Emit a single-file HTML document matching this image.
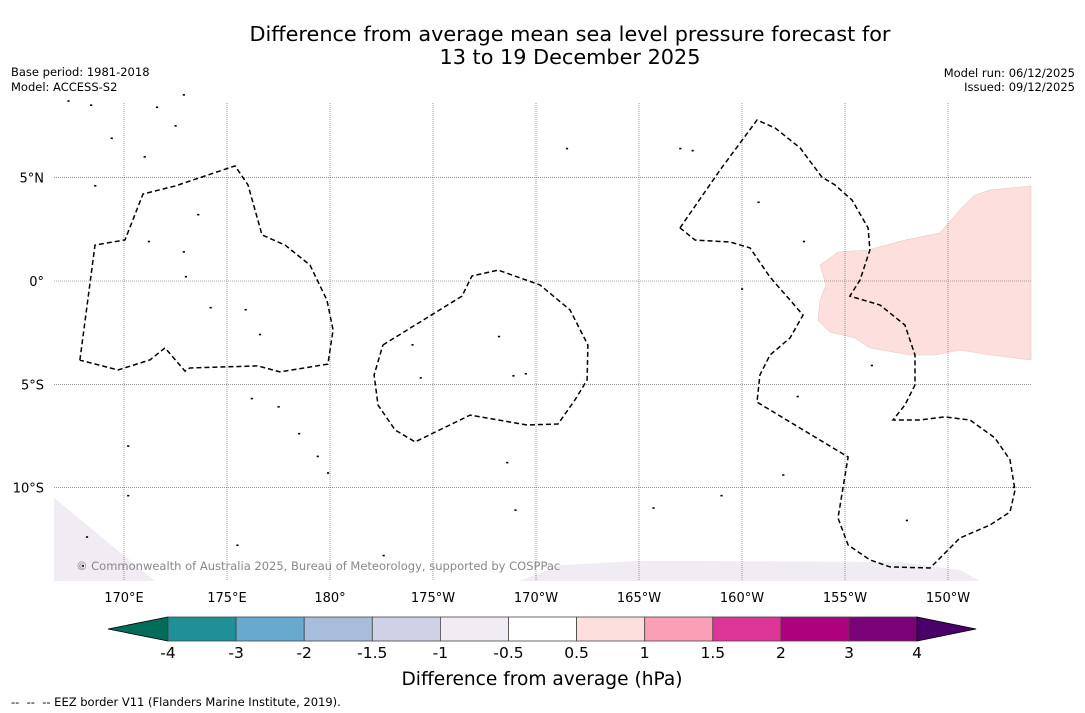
<!DOCTYPE html>
<html><head><meta charset="utf-8">
<style>
html,body{margin:0;padding:0;background:#fff;width:1085px;height:713px;overflow:hidden;font-family:"DejaVu Sans","Liberation Sans",sans-serif}
</style></head><body>
<svg id="chart" width="1085" height="713" xmlns="http://www.w3.org/2000/svg" font-family="DejaVu Sans, Liberation Sans, sans-serif">
<text x="570" y="41" font-size="20.8" text-anchor="middle" fill="#000">Difference from average mean sea level pressure forecast for</text>
<text x="570" y="64" font-size="20.8" text-anchor="middle" fill="#000">13 to 19 December 2025</text>
<text x="11" y="76" font-size="11.5">Base period: 1981-2018</text>
<text x="11" y="91" font-size="11.5">Model: ACCESS-S2</text>
<text x="1075" y="77" font-size="11.5" text-anchor="end">Model run: 06/12/2025</text>
<text x="1075" y="91" font-size="11.5" text-anchor="end">Issued: 09/12/2025</text>
<g id="map"></g>
<g id="cbar"></g>
<text x="542" y="685" font-size="18.6" text-anchor="middle">Difference from average (hPa)</text>
<text x="11" y="706" font-size="11.5" style="white-space:pre">--  --  -- EEZ border V11 (Flanders Marine Institute, 2019).</text>
</svg>
<script>
const lonTicks=[170,175,180,185,190,195,200,205,210];
const lonLabels=["170°E","175°E","180°","175°W","170°W","165°W","160°W","155°W","150°W"];
const latTicks=[5,0,-5,-10];
const latLabels=["5°N","0°","5°S","10°S"];
const cbarLevels=["-4","-3","-2","-1.5","-1","-0.5","0.5","1","1.5","2","3","4"];
const cbarColors=["#1f9196","#67a9cf","#a6bddb","#d0d1e6","#f1ebf4","#ffffff","#fde0dd","#fa9fb5","#dd3497","#ae017e","#7a0177"];
const eezGilbert=[[167.86,-3.83],[168.59,1.74],[170.05,1.99],[170.92,4.21],[172.48,4.60],[175.39,5.57],[176.02,4.65],[176.70,2.23],[177.82,1.74],[179.03,0.77],[179.85,-0.92],[180.15,-2.37],[179.90,-4.02],[177.57,-4.40],[176.50,-4.11],[173.20,-4.21],[172.96,-4.36],[171.99,-3.24],[171.26,-3.82],[169.71,-4.31],[167.86,-3.83]];
const eezPhoenix=[[182.57,-3.10],[186.41,-0.73],[186.89,0.24],[188.16,0.53],[190.19,-0.19],[191.65,-1.40],[192.52,-3.10],[192.48,-4.79],[191.89,-5.76],[191.07,-6.92],[189.56,-6.97],[186.80,-6.49],[184.13,-7.79],[183.16,-7.21],[182.33,-6.00],[182.14,-4.55],[182.57,-3.10]];
const eezLine=[[196.99,2.57],[198.93,5.37],[200.73,7.79],[201.60,7.41],[202.82,6.44],[203.88,5.03],[204.51,4.65],[205.34,3.92],[206.12,2.57],[206.21,1.50],[205.73,0.05],[205.24,-0.73],[206.70,-1.16],[207.91,-2.13],[208.40,-3.58],[208.40,-5.03],[207.91,-6.00],[207.33,-6.73],[208.64,-6.73],[209.85,-6.58],[211.07,-6.73],[212.28,-7.60],[213.01,-8.66],[213.25,-10.12],[213.01,-11.18],[212.04,-11.81],[210.58,-12.44],[209.13,-13.89],[207.18,-13.84],[206.21,-13.50],[205.15,-12.78],[204.66,-11.47],[205.15,-8.52],[200.73,-5.86],[200.87,-4.55],[201.36,-3.58],[202.33,-2.76],[202.96,-1.65],[202.33,-0.92],[201.36,0.19],[200.39,1.60],[199.42,1.89],[197.73,1.98],[196.99,2.57]];
const pinkArea=[[203.79,0.77],[204.66,1.40],[206.12,1.50],[207.91,1.98],[209.61,2.32],[210.58,3.44],[211.31,4.16],[212.04,4.40],[214.03,4.60],[214.03,-3.82],[212.04,-3.58],[210.58,-3.34],[209.37,-3.58],[208.16,-3.58],[206.21,-3.24],[205.49,-2.76],[204.27,-2.47],[203.69,-1.89],[203.79,-0.92],[204.08,-0.19],[203.79,0.77]];
const lavWest=[[166.60,-10.50],[166.60,-14.52],[171.50,-14.52]];
const lavSouth=[[189.22,-14.52],[191.17,-13.75],[195.05,-13.55],[207.67,-13.60],[210.58,-13.99],[211.55,-14.52]];
const islands=[[171.2,1.9],[172.9,1.4],[173.0,0.2],[174.2,-1.3],[175.9,-1.4],[176.6,-2.6],[176.2,-5.7],[177.5,-6.1],[178.5,-7.4],[179.4,-8.5],[179.9,-9.3],[184.0,-3.1],[188.2,-2.7],[188.9,-4.6],[189.5,-4.5],[184.4,-4.7],[197.6,6.3],[200.8,3.8],[203.0,1.9],[200.0,-0.4],[202.7,-5.6],[202.0,-9.4],[199.0,-10.4],[195.7,-11.0],[188.6,-8.8],[189.0,-11.1],[182.6,-13.3],[206.3,-4.1],[213.2,-10.0],[208.0,-11.6],[170.2,-8.0],[170.2,-10.4],[168.2,-12.4],[168.0,-13.8],[175.5,-12.8],[171.6,8.4],[172.5,7.5],[172.9,9.0],[167.3,8.7],[168.4,8.5],[169.4,6.9],[168.6,4.6],[173.6,3.2],[197.0,6.4],[191.5,6.4],[171.0,6.0]];
const X=lon=>124+(lon-170)*20.6;
const Y=lat=>281-lat*20.66;
const NS="http://www.w3.org/2000/svg";
const map=document.getElementById('map');
function mk(tag,attrs,parent){const e=document.createElementNS(NS,tag);for(const k in attrs)e.setAttribute(k,attrs[k]);parent.appendChild(e);return e;}
const pts=a=>a.map(p=>X(p[0]).toFixed(1)+','+Y(p[1]).toFixed(1)).join(' ');
let e=mk('polygon',{points:pts(pinkArea),fill:'#fde0dd',stroke:'#e8c8c6','stroke-width':0.6},map);


e=mk('polygon',{points:pts(lavWest),fill:'#f1ebf4'},map);


e=mk('polygon',{points:pts(lavSouth),fill:'#f1ebf4'},map);


lonTicks.forEach((l,i)=>{
 const g=mk('line',{x1:X(l),x2:X(l),y1:103,y2:581,stroke:'#555','stroke-width':0.6,'stroke-dasharray':'1,1'},map);
 
 
 const t=mk('text',{x:X(l),y:602,'font-size':13,'text-anchor':'middle'},map);t.textContent=lonLabels[i];
 
 
});
latTicks.forEach((l,i)=>{
 const g=mk('line',{x1:54,x2:1031,y1:Y(l),y2:Y(l),stroke:'#555','stroke-width':0.6,'stroke-dasharray':'1,1'},map);
 
 
 const t=mk('text',{x:44,y:Y(l)+5,'font-size':13,'text-anchor':'end'},map);t.textContent=latLabels[i];
 
 
});
[[eezGilbert,'eez-gilbert-islands'],[eezPhoenix,'eez-phoenix-islands'],[eezLine,'eez-line-islands']].forEach(([a,n])=>{
 const p=mk('polyline',{points:pts(a),fill:'none',stroke:'#000','stroke-width':1.5,'stroke-dasharray':'5,3'},map);
 
 
});
islands.forEach(p=>{
 const c=mk('rect',{x:X(p[0])-1,y:Y(p[1])-1,width:2.2,height:1.6,fill:'#000'},map);
 
 
});
e=mk('text',{x:76,y:570,'font-size':11.5,fill:'#888'},map);
e.textContent='© Commonwealth of Australia 2025, Bureau of Meteorology, supported by COSPPac';


const cb=document.getElementById('cbar');
const cx0=168,cw=68.1,cy=617,ch=24;
e=mk('polygon',{points:`108,${cy+ch/2} ${cx0},${cy} ${cx0},${cy+ch}`,fill:'#016c59',stroke:'#000','stroke-width':0.8},cb);


cbarColors.forEach((c,i)=>{
 const r=mk('rect',{x:cx0+i*cw,y:cy,width:cw,height:ch,fill:c,stroke:'#444','stroke-width':0.8},cb);
 
 
});
const xe=cx0+cbarColors.length*cw;
e=mk('polygon',{points:`${xe},${cy} ${xe+59},${cy+ch/2} ${xe},${cy+ch}`,fill:'#49006a',stroke:'#000','stroke-width':0.8},cb);


cbarLevels.forEach((l,i)=>{
 const t=mk('text',{x:cx0+i*cw,y:658,'font-size':15.5,'text-anchor':'middle'},cb);t.textContent=l;
 
 
});
</script>
</body></html>
